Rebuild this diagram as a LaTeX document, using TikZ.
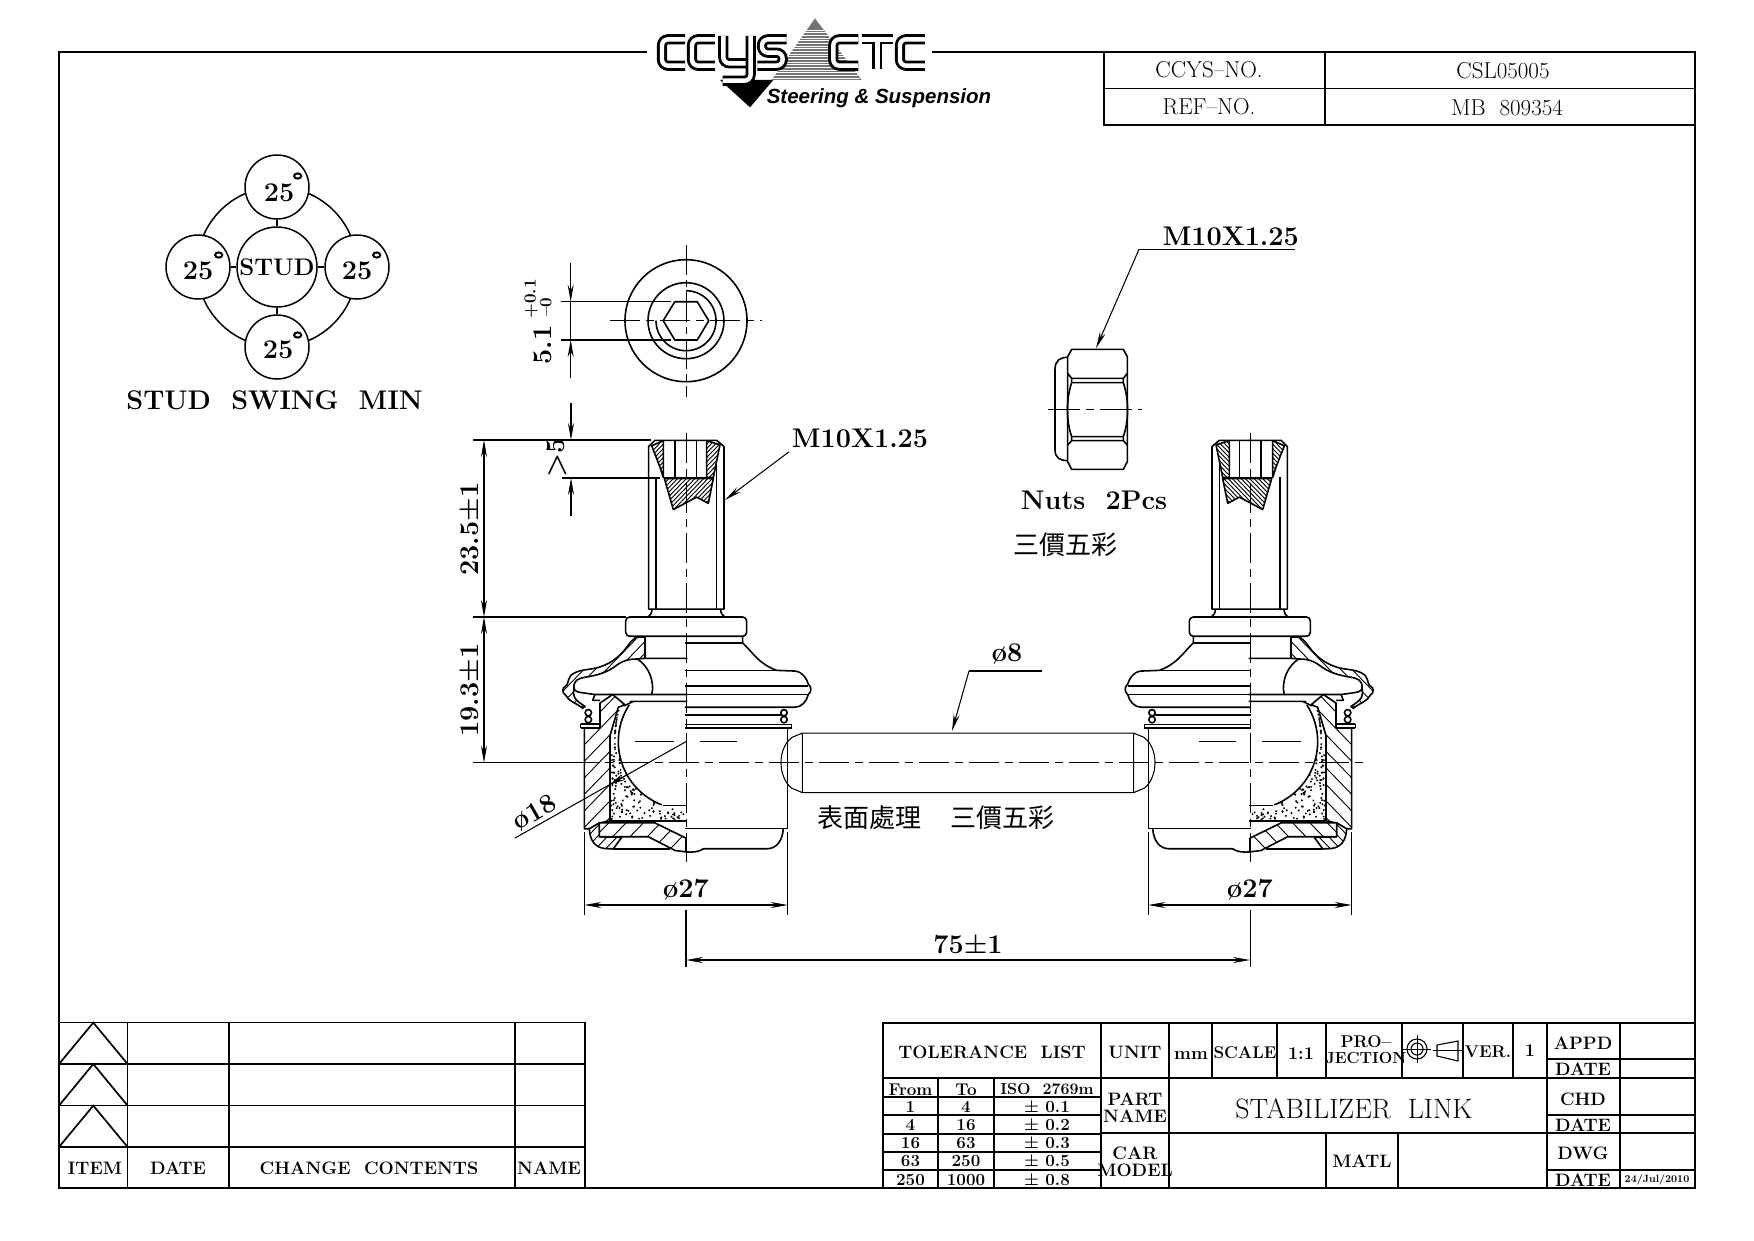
\documentclass[tikz,border=0pt]{standalone}
\usepackage{fontspec}
\usepackage{graphicx}
\usetikzlibrary{arrows.meta,calc}
\newfontfamily\cjk{Noto Sans CJK TC}
\newfontfamily\logofont{Liberation Sans}
\newcommand\dw[1]{\fontsize{#1}{#1}\selectfont\bfseries\addfontfeatures{LetterSpace=6}}
\newcommand\rg[1]{\fontsize{#1}{#1}\selectfont\addfontfeatures{LetterSpace=6}}
\newcount\labn
\newcommand\lab[4]{\global\advance\labn by 1 \node[name=t\the\labn,inner sep=0pt,font=\dw{#3}] at (#1,#2) {#4};}
\newcommand\lrg[4]{\global\advance\labn by 1 \node[name=t\the\labn,inner sep=0pt,font=\rg{#3}] at (#1,#2) {#4};}
\tikzset{
 frameln/.style={line width=2.6pt},
 tabln/.style={line width=1.7pt},
 ol/.style={line width=1.6pt,line join=round},
 thn/.style={line width=1.05pt,line join=round},
 hat/.style={line width=.9pt},
 ctr/.style={line width=.9pt,dash pattern=on 30pt off 6pt on 8pt off 6pt},
 dimln/.style={line width=1.05pt},
 dimar/.style={line width=1.05pt,{Stealth[length=17pt,width=6pt]}-{Stealth[length=17pt,width=6pt]}},
 endar/.style={line width=1.05pt,-{Stealth[length=17pt,width=6pt]}},
 swing/.style={circle,draw,line width=1.5pt,fill=white,inner sep=0pt},
 logoln/.style={line width=2.9pt,double=white,double distance=4.4pt,rounded corners=6pt,line cap=butt},
}
% hatch a closed path: #1 spacing, #2 path
\newcommand\hatched[2]{%
 \fill[white] #2;
 \begin{scope}\clip #2;
 \foreach \k in {0,#1,...,2400}{\draw[hat] ({\k-1400},1400)--(\k,0);}
 \end{scope}
 \draw[ol] #2;}
\newcommand\ballstud{%
 % grease dots
 \pgfmathsetseed{11}
 \foreach \i in {1,...,520}{
  \pgfmathsetmacro\dx{184+rnd*222}
  \pgfmathsetmacro\dy{895+rnd*323}
  \pgfmathsetmacro\ok{(((\dx-408)/203)^2+((\dy-992)/196.5)^2>1.02 && \dy>1020)?1:0}
  \ifdim\ok pt>0.5pt \fill (\dx,\dy) circle[radius=1.1pt]; \fi
 }
 \foreach \i in {1,...,22}{
  \pgfmathsetmacro\dy{895+rnd*130}
  \pgfmathsetmacro\dx{(408-203*sqrt(1-((\dy-992)/196.5)^2)+184)/2}
  \fill (\dx,\dy) circle[radius=1pt];
 }
 % stud
 \draw[ol] (296,135)--(315,117)--(500,117)--(522,135)--(522,607)--(296,607)--cycle;
 \draw[ol] (318,225)--(318,607) (500,135)--(500,607);
 \hatched{13}{(305,133)--(340,118)--(340,225)--(330,195)--cycle}
 \hatched{13}{(470,118)--(510,130)--(490,225)--(470,225)--cycle}
 \hatched{13}{(343,228)--(490,228)--(475,300)--(440,282)--(370,318)--cycle}
 \draw[ol] (340,117)--(340,225)--(470,225)--(470,117) (375,117)--(375,225) (440,117)--(440,225);
 % neck + flange
 \draw[ol] (306,607)..controls(306,620)and(300,626)..(294,630) (512,607)..controls(512,620)and(518,626)..(524,630);
 \draw[ol,rounded corners=4pt] (227,630)rectangle(590,686);
 % section: boot
 \hatched{34}{(240,705)..controls(215,740)and(190,762)..(150,775)..controls(120,785)and(85,780)..(62,800)..controls(52,815)and(55,825)..(48,830)..controls(35,835)and(35,850)..(48,858)..controls(55,875)and(80,880)..(98,895)--(105,890)..controls(85,875)and(65,870)..(72,835)..controls(70,815)and(85,808)..(105,805)..controls(140,800)and(175,790)..(200,770)..controls(225,752)and(250,752)..(262,752)--(285,750)--(285,688)--(258,688)--cycle}
 \draw[ol] (262,752)..controls(290,770)and(308,800)..(308,840)--(305,855)--(135,855)--(128,872)--(150,872);
 \draw[ol] (72,835)..controls(72,848)and(80,848)..(135,855);
 \draw[ol] (285,750)--(412,750) (305,855)--(412,855) (240,875)--(412,875) (222,888)--(250,875)--(250,875);
 % housing
 \hatched{48}{(103,952)--(150,952)--(150,880)--(188,855)--(225,885)--(205,892)--(180,975)--(180,1222)--(148,1228)--(120,1245)--(103,1245)--cycle}
 \draw[ol] (92,940)--(150,940) (92,952)--(150,952) (92,940)--(92,952);
 \draw[ol] (115,908)circle[radius=9pt*0+3.2pt] (115,928)circle[radius=3.2pt];
 % ball
 \draw[ol] plot[domain=213:111,samples=40] ({408+203*cos(\x)},{992+196.5*sin(\x)});
 \draw[ol] (340,1177)--(412,1177) (180,1222)--(412,1222);
 \hatched{30}{(118,1245)..controls(120,1280)and(135,1303)..(175,1303)--(190,1303)--(215,1270)--(148,1268)--(148,1228)--cycle}
 \hatched{52}{(148,1228)--(315,1228)--(408,1272)--(408,1312)--(375,1308)--(295,1268)--(148,1268)--cycle}
 \draw[ol] (190,1303)--(360,1303);
 % exterior half
 \draw[ol] (578,687)--(578,705)..controls(610,735)and(625,765)..(680,785)--(735,787)..controls(760,790)and(770,810)..(775,825)..controls(785,832)and(785,848)..(775,855)..controls(770,875)and(755,892)..(735,892)--(405,892);
 \draw[ol] (405,705)--(578,705) (405,785)--(680,785) (405,830)--(775,830) (405,855)--(775,855) (405,915)--(692,915) (405,942)--(725,942) (405,952)--(725,952) (725,942)--(725,952);
 \draw[ol] (702,908)circle[radius=3.2pt] (702,928)circle[radius=3.2pt];
 \draw[thn] (713,955)--(713,1245)--(405,1245);
 \draw[ol] (700,1245)..controls(697,1280)and(680,1303)..(650,1303)--(460,1303)..controls(450,1312)and(425,1314)..(408,1312);
 % rod half
 \draw[thn] (1254,967)--(757,967)--(725,980)..controls(700,1000)and(693,1030)..(693,1053)..controls(693,1080)and(703,1110)..(725,1127)--(757,1140)--(1254,1140) (757,967)--(757,1140);
 % centre lines
 \draw[ctr] (408,95)--(408,1340);
 \draw[dimln] (408,1480)--(408,1646);
 \draw[dimln] (255,992)--(372,992) (450,992)--(560,992);
 % extension lines of dia 27
 \draw[dimln] (103,1255)--(103,1495) (713,1255)--(713,1495);
}
\begin{document}
\begin{tikzpicture}[x=1pt,y=-1pt]
\useasboundingbox (0,0) rectangle (1754,1240);
\fill[white] (0,0) rectangle (1754,1240);
% frame
\coordinate (fa) at (647,52); \coordinate (fb) at (932,52);
\draw[frameln] (fa)--(59,52)--(59,1188)--(1695,1188)--(1695,52)--(fb);
% logo
\begin{scope}[shift={(640,0)},x=.3333pt,y=-.3333pt]
 \fill[black!55] (525,55)--(665,240)--(395,240)--cycle;
 \foreach \s in {90,98,...,240}{\draw[white,line width=.7pt] ({525-(\s-55)*.73},\s)--({525+(\s-55)*.76},\s);}
 \fill (240,240)--(400,240)--(330,322)--cycle;
 \draw[logoln] (135,118)--(66,118)--(66,197)--(135,197);
 \draw[logoln] (225,118)--(156,118)--(156,197)--(225,197);
 \draw[logoln] (250,108)--(250,190)--(328,190);
 \draw[logoln] (332,108)--(332,242)--(248,242);
 \draw[logoln] (440,118)--(366,118)--(366,158)--(428,158)--(428,197)--(352,197);
 \draw[logoln] (655,118)--(580,118)--(580,197)--(655,197);
 \draw[logoln,rounded corners=0pt] (665,118)--(760,118) (712,118)--(712,208);
 \draw[logoln] (855,118)--(780,118)--(780,197)--(855,197);
\end{scope}
\node[name=logotext,inner sep=0pt,font=\logofont\fontsize{20.5}{20.5}\selectfont\bfseries\itshape] at (879,98) {Steering \& Suspension};
% top right table
\draw[tabln] (1104,52)--(1104,125)--(1695,125) (1104,88.5)--(1695,88.5) (1325,52)--(1325,125);
\lrg{1209}{70}{23}{CCYS–NO.}
\lrg{1503}{71}{23}{CSL05005}
\lrg{1209}{107}{23}{REF–NO.}
\lrg{1507}{108}{23}{MB~~809354}
% swing diagram
\coordinate (sc) at (277,267);
\draw[line width=1.5pt] (sc) circle[radius=80pt];
\node[swing,minimum size=80pt] (stud) at (sc) {};
\node[swing,minimum size=64pt] (s1) at (277,187) {};
\node[swing,minimum size=64pt] (s2) at (277,347) {};
\node[swing,minimum size=64pt] (s3) at (198,267) {};
\node[swing,minimum size=64pt] (s4) at (357,267) {};
\draw[line width=1.5pt] (stud)--(s1) (stud)--(s2) (stud)--(s3) (stud)--(s4);
\lab{277}{267}{24}{STUD}
\lab{279}{193}{27}{25}
\lab{278}{350}{27}{25}
\lab{198}{271}{27}{25}
\lab{357}{271}{27}{25}
\foreach \p in {(297.7,176),(297.7,335),(218.7,255),(376.7,255)}{\draw[line width=2pt] \p ellipse[x radius=3.6pt,y radius=2.6pt];}
\lab{274.5}{400}{27}{STUD~~SWING~~MIN}
% front view of socket
\coordinate (hc) at (686,320.7);
\draw[ol] (hc) circle[radius=61pt] (hc) circle[radius=38pt];
\draw[ol] plot[domain=180:450,samples=50] ({686+30*cos(\x)},{320.7-30*sin(\x)*-1*-1});
\draw[ol] (663.2,320.7)--(674.8,301.7)--(697.2,301.7)--(708.8,320.7)--(697.2,340)--(674.8,340)--cycle;
\draw[ctr] (610,320.7)--(762,320.7);
\draw[ctr,dash pattern=on 30pt off 5pt on 7pt off 5pt] (686,245)--(686,397);
\draw[dimln] (560.7,301.7)--(671,301.7) (560.7,340)--(671,340) (570.7,301.7)--(570.7,340);
\draw[endar] (570.7,263)--(570.7,301.7);
\draw[endar] (570.7,378)--(570.7,340);
\node[name=dimfive,inner sep=0pt,rotate=90,font=\dw{27},anchor=center] at (543,345) {5.1};
\node[name=dimplus,inner sep=0pt,rotate=90,font=\dw{17},anchor=center] at (531,299) {+0.1};
\node[name=dimminus,inner sep=0pt,rotate=90,font=\dw{17},anchor=center] at (546,307) {–0};
% ball studs
\begin{scope}[shift={(550,400)},x=.3333pt,y=-.3444pt]\ballstud\end{scope}
\begin{scope}[shift={(1386,400)},x=-.3333pt,y=-.3444pt]\ballstud\end{scope}
\draw[ctr] (569,762.7)--(1367,762.7);
% dims left
\draw[dimln] (473,440)--(651,440) (561.7,478)--(660,478) (473,617)--(625.7,617) (473,762.7)--(569,762.7);
\draw[dimar] (484,440)--(484,617);
\draw[dimar] (484,617)--(484,762.7);
\draw[endar] (571,403)--(571,440);
\draw[endar] (571,516)--(571,478);
\node[name=dimsa,inner sep=0pt,rotate=90,font=\dw{27}] at (469,529) {23.5±1};
\node[name=dimsb,inner sep=0pt,rotate=90,font=\dw{27}] at (469,690) {19.3±1};
\node[name=dimgt,inner sep=0pt,rotate=90,font=\dw{27}] at (557,458) {>5};
% thread leader
\coordinate (la) at (788.7,452); \coordinate (lb) at (725,500);
\draw[endar] (la)--(lb);
\lab{860}{438.6}{27}{M10X1.25}
% dia 18
\coordinate (ba) at (515,838); \coordinate (bb) at (686,741.6);
\draw[dimln] (ba)--(bb);
\draw[-{Stealth[length=14pt,width=6pt]},line width=1pt] (625,776)--(610,784.5);
\node[name=dimbb,inner sep=0pt,rotate=30,font=\dw{27}] at (535,813) {ø18};
% dia 8
\coordinate (ca) at (1042,671); \coordinate (cb) at (969,671); \coordinate (cc) at (952,731);
\draw[dimln] (ca)--(cb);
\draw[endar] (cb)--(cc);
\lab{1007}{654}{27}{ø8}
% dia 27
\draw[dimar] (584.3,905)--(787.7,905);
\draw[dimar] (1148.3,905)--(1351.7,905);
\lab{686}{889.5}{27}{ø27}
\lab{1250}{889.5}{27}{ø27}
% 75
\draw[dimar] (686,960)--(1250,960);
\lab{968}{944}{27}{75±1}
% surface text
\node[name=sf,inner sep=0pt,font=\cjk\fontsize{26}{26}\selectfont,anchor=west] at (817,818) {表面處理};
\node[name=sg,inner sep=0pt,font=\cjk\fontsize{26}{26}\selectfont,anchor=west] at (950,818) {三價五彩};
% nut
\begin{scope}[shift={(1000,210)},x=.3333pt,y=-.3333pt]
 \draw[ol] (205,442)..controls(180,442)and(165,450)..(165,480)--(165,718)..controls(165,745)and(180,752)..(205,752);
 \draw[ol,fill=white] (215,418)--(370,418)--(382,440)--(382,755)--(370,778)--(215,778)--(203,755)--(203,440)--cycle;
 \draw[ol] (203,490)--(215,505)--(370,505)--(382,490) (215,518)--(370,518) (215,505)--(215,518) (370,505)--(370,518);
 \draw[ol] (203,705)--(215,692)--(370,692)--(382,705) (215,680)--(370,680) (215,692)--(215,680) (370,692)--(370,680);
 \draw[ol] (215,518)..controls(198,570)and(198,630)..(215,680) (370,518)..controls(387,570)and(387,630)..(370,680);
 \draw[line width=.9pt,dash pattern=on 32pt off 6pt on 8pt off 6pt] (143,597)--(425,597);
 \coordinate (na) at (885,118); \coordinate (nb) at (417,118); \coordinate (nc) at (288,415);
 \draw[dimln] (na)--(nb);
 \draw[endar] (nb)--(nc);
\end{scope}
\lab{1230.7}{236.7}{27}{M10X1.25}
\lab{1094}{500}{27}{Nuts~~2Pcs}
\node[name=sh,inner sep=0pt,font=\cjk\fontsize{26}{26}\selectfont] at (1065.7,545) {三價五彩};
% revision table
\draw[tabln] (59,1022.6)--(585,1022.6)--(585,1188) (59,1064)--(585,1064) (59,1105.6)--(585,1105.6) (59,1147)--(585,1147) (127.6,1022.6)--(127.6,1188) (229,1022.6)--(229,1188) (515,1022.6)--(515,1188);
\foreach \yt/\yb in {1022.6/1064,1064/1105.6,1105.6/1147}{\draw[tabln] (59,\yb)--(93.3,\yt)--(127.6,\yb);}
\lab{95}{1168}{18}{ITEM}
\lab{178}{1168}{18}{DATE}
\lab{369}{1168}{18}{CHANGE~~CONTENTS}
\lab{549}{1168}{18}{NAME}
% title block
\draw[tabln] (883,1188)--(883,1023)--(1695,1023) (883,1078)--(1547,1078) (1101,1133)--(1547,1133);
\foreach \x in {1101,1169,1547,1620}{\draw[tabln] (\x,1023)--(\x,1188);}
\foreach \x in {1212,1277,1326,1402,1463,1513}{\draw[tabln] (\x,1023)--(\x,1078);}
\foreach \x in {1326,1398}{\draw[tabln] (\x,1133)--(\x,1188);}
\foreach \y in {1059,1078,1115,1133,1170}{\draw[tabln] (1547,\y)--(1695,\y);}
\foreach \y in {1097,1115,1134,1152,1170}{\draw[tabln] (883,\y)--(1101,\y);}
\foreach \x in {938,994}{\draw[tabln] (\x,1078)--(\x,1188);}
\lab{992}{1052}{18}{TOLERANCE~~LIST}
\lab{1135}{1052}{18}{UNIT}
\lab{1191}{1055}{18}{mm}
\lab{1245}{1053}{17}{SCALE}
\lab{1301}{1054}{18}{1:1}
\lab{1366}{1042}{17}{PRO–}
\lab{1366}{1058}{16}{JECTION}
\lab{1488}{1052}{17}{VER.}
\lab{1530}{1051}{18}{1}
\lab{1583}{1043}{18}{APPD}
\lab{1583}{1069}{18}{DATE}
\lab{1583}{1099}{18}{CHD}
\lab{1583}{1125}{18}{DATE}
\lab{1583}{1153}{18}{DWG}
\lab{1583}{1180}{18}{DATE}
\lab{1657}{1180}{10.5}{24/Jul/2010}
\lrg{1354}{1109}{28}{STABILIZER~~LINK}
\lab{1362}{1161}{18}{MATL}
\lab{1135}{1099}{18}{PART}
\lab{1135}{1116}{18}{NAME}
\lab{1135}{1153}{18}{CAR}
\lab{1135}{1170}{18}{MODEL}
\lab{910.5}{1090}{17}{From}
\lab{966}{1090}{17}{To}
\lab{1047}{1089}{16}{ISO~~2769m}
\foreach \ya/\a/\b/\c in {1107/1/4/0.1,1125/4/16/0.2,1143/16/63/0.3,1161/63/250/0.5,1180/250/1000/0.8}{
 \node[inner sep=0pt,font=\dw{17}] at (910.5,\ya) {\a};
 \node[inner sep=0pt,font=\dw{17}] at (966,\ya) {\b};
 \node[inner sep=0pt,font=\dw{17}] at (1047,\ya) {±~\c};
}
% projection symbol
\coordinate (pc) at (1417,1049);
\draw[line width=1.1pt] (pc) circle[radius=10pt] (pc) circle[radius=6pt];
\draw[line width=.8pt] (1403,1049)--(1431,1049) (1417,1035)--(1417,1063);
\draw[line width=1.1pt] (1437,1045)--(1458,1041)--(1458,1061)--(1437,1056)--cycle;
\draw[line width=.8pt] (1433,1050.5)--(1462,1050.5);
\end{tikzpicture}
\end{document}
